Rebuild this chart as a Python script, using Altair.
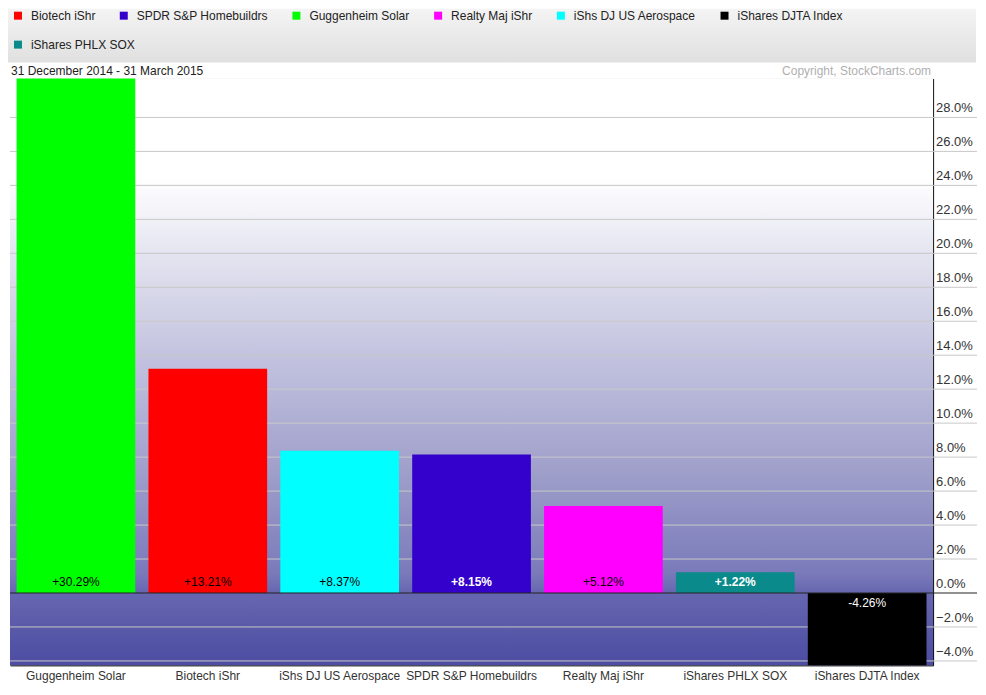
import altair as alt
import pandas as pd

# ---- data ----
names = ["Guggenheim Solar", "Biotech iShr", "iShs DJ US Aerospace", "SPDR S&P Homebuildrs",
         "Realty Maj iShr", "iShares PHLX SOX", "iShares DJTA Index"]
values = [30.29, 13.21, 8.37, 8.15, 5.12, 1.22, -4.26]
legend_order = ["Biotech iShr", "SPDR S&P Homebuildrs", "Guggenheim Solar", "Realty Maj iShr",
                "iShs DJ US Aerospace", "iShares DJTA Index", "iShares PHLX SOX"]
legend_colors = ["#ff0000", "#3300cc", "#00ff00", "#ff00ff", "#00ffff", "#000000", "#0a8a8a"]
legend_row1 = legend_order[:6]
legend_row2 = legend_order[6:]
y_ticks = [-4, -2, 0, 2, 4, 6, 8, 10, 12, 14, 16, 18, 20, 22, 24, 26, 28]
dark_labels = ["SPDR S&P Homebuildrs", "iShares PHLX SOX"]
title_text = "31 December 2014 - 31 March 2015"
copyright_text = "Copyright, StockCharts.com"

df = pd.DataFrame({"name": names, "value": values})
df["label"] = [("+" if v >= 0 else "") + f"{v:.2f}%" for v in values]
ticks_df = pd.DataFrame({"v": y_ticks})
one = pd.DataFrame({"a": [0]})

W, H = 925, 588
TICK = 44
FONT = "Liberation Sans"

yscale = alt.Scale(domain=[min(values), max(values)], nice=False, zero=False)
yaxis = alt.Axis(orient="right", title=None, grid=False, labels=False, ticks=False,
                 domainColor="#000", domainWidth=1)
xenc = alt.X("name:N", sort=names,
             scale=alt.Scale(paddingInner=0.1, paddingOuter=0.05),
             axis=alt.Axis(title=None, ticks=False, labelAngle=0, labelOverlap=False,
                           labelFontSize=12, labelColor="#333", labelFont=FONT,
                           labelPadding=5, domainColor="#000", domainWidth=1))
cscale = alt.Scale(domain=legend_order, range=legend_colors)


def legend(vals, ly):
    return alt.Legend(title=None, orient="none", legendX=2, legendY=ly, values=vals,
                      direction="horizontal",
                      symbolType="square", symbolSize=64, symbolStrokeWidth=0,
                      labelFontSize=12, labelColor="#222", labelFont=FONT,
                      labelOffset=7, columnPadding=22, padding=0)


plot_grad = alt.LinearGradient(
    gradient="linear", x1=0, x2=0, y1=0, y2=1,
    stops=[alt.GradientStop(color="#ffffff", offset=0),
           alt.GradientStop(color="#ffffff", offset=0.17),
           alt.GradientStop(color="#dcdcec", offset=0.34),
           alt.GradientStop(color="#bcbcdc", offset=0.51),
           alt.GradientStop(color="#9e9eca", offset=0.675),
           alt.GradientStop(color="#7a7aba", offset=0.843),
           alt.GradientStop(color="#6666b0", offset=0.877),
           alt.GradientStop(color="#4c4ca2", offset=1)])
head_grad = alt.LinearGradient(
    gradient="linear", x1=0, x2=0, y1=0, y2=1,
    stops=[alt.GradientStop(color="#f4f4f4", offset=0),
           alt.GradientStop(color="#e0e0e0", offset=1)])

header = alt.Chart(one).mark_rect(color=head_grad).encode(
    x=alt.value(-2), x2=alt.value(968), y=alt.value(-70), y2=alt.value(-16))
bg = alt.Chart(one).mark_rect(color=plot_grad).encode(
    x=alt.value(0), x2=alt.value(W), y=alt.value(0), y2=alt.value(H))

# gridlines that continue to the right as axis ticks
grid = alt.Chart(ticks_df).mark_rule(color="#c8c8c8", strokeWidth=1).encode(
    y=alt.Y("v:Q", scale=yscale, axis=yaxis), x=alt.value(0), x2=alt.value(W + TICK)
).transform_filter("datum.v != 0")

tick_labels = alt.Chart(ticks_df).transform_calculate(
    lab="format(datum.v, '.1f') + '%'"
).mark_text(align="left", baseline="bottom", dy=-2, fontSize=13, font=FONT, color="#333").encode(
    y=alt.Y("v:Q", scale=yscale), x=alt.value(W + 3), text="lab:N")

bars1 = alt.Chart(df).mark_bar(strokeWidth=0).encode(
    x=xenc,
    y=alt.Y("value:Q", scale=yscale),
    color=alt.Color("name:N", scale=cscale, legend=legend(legend_row1, -69)),
).transform_filter(alt.FieldOneOfPredicate(field="name", oneOf=legend_row1))

bars2 = alt.Chart(df).mark_bar(strokeWidth=0).encode(
    x=xenc,
    y=alt.Y("value:Q", scale=yscale),
    color=alt.Color("name:N", scale=cscale, legend=legend(legend_row2, -40)),
).transform_filter(alt.FieldOneOfPredicate(field="name", oneOf=legend_row2))

zero = alt.Chart(one).mark_rule(color="#222222", strokeWidth=1.2).encode(
    y=alt.datum(0, scale=yscale), x=alt.value(0), x2=alt.value(W + TICK))

pos_black = alt.Chart(df).mark_text(dy=-11, fontSize=12, font=FONT, color="#000").encode(
    x=alt.X("name:N", sort=names), y=alt.datum(0), text="label:N"
).transform_filter("datum.value >= 0 && indexof(%s, datum.name) < 0" % str(dark_labels))

pos_white = alt.Chart(df).mark_text(dy=-11, fontSize=12, font=FONT, color="#fff", fontWeight="bold").encode(
    x=alt.X("name:N", sort=names), y=alt.datum(0), text="label:N"
).transform_filter("datum.value >= 0 && indexof(%s, datum.name) >= 0" % str(dark_labels))

neg_white = alt.Chart(df).mark_text(dy=10, fontSize=12, font=FONT, color="#fff").encode(
    x=alt.X("name:N", sort=names), y=alt.datum(0), text="label:N"
).transform_filter("datum.value < 0")

title = alt.Chart(one).mark_text(align="left", baseline="middle", fontSize=12, font=FONT,
                                 color="#222", text=title_text).encode(
    x=alt.value(1), y=alt.value(-8))
copyright = alt.Chart(one).mark_text(align="right", baseline="middle", fontSize=12, font=FONT,
                                     color="#b0b0b0", text=copyright_text).encode(
    x=alt.value(923), y=alt.value(-8))

chart = alt.layer(header, bg, grid, tick_labels, bars1, bars2, zero, pos_black, pos_white, neg_white,
                  title, copyright).properties(
    width=W, height=H, padding={"left": 0, "top": 0, "right": 0, "bottom": 4}
).resolve_scale(color="independent").configure_view(stroke=None).configure(background="#ffffff")

chart.save("out.html", embed_options={"renderer": "svg", "actions": False})
